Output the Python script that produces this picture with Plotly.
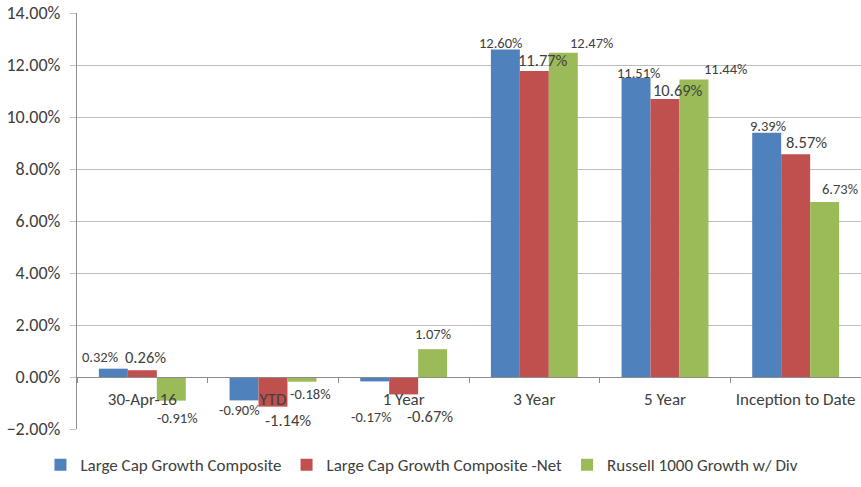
import plotly.graph_objects as go

categories = ["30-Apr-16", "YTD", "1 Year", "3 Year", "5 Year", "Inception to Date"]
composite = [0.32, -0.90, -0.17, 12.60, 11.51, 9.39]
composite_net = [0.26, -1.14, -0.67, 11.77, 10.69, 8.57]
russell = [-0.91, -0.18, 1.07, 12.47, 11.44, 6.73]

series = [
    ("Large Cap Growth Composite", composite, "#4F81BD"),
    ("Large Cap Growth Composite -Net", composite_net, "#C0504D"),
    ("Russell 1000 Growth w/ Div", russell, "#9BBB59"),
]

# label placement tweaks (pixels): per series, per category (dx, dy)
label_offsets = [
    [(-13, -12), (-5, 10), (-3, 36), (-5, -6), (2, -5), (1, -7)],
    [(3, -13), (15, 13), (26, 22), (9, -11), (13, -9), (11, -12)],
    [(6, 17), (8, 12), (0, -15), (28, -10), (31, -11), (15, -13)],
]
label_sizes = [14.5, 16.5, 14.5]
bar_shift = [-29, 0, 29]

FONT = "Carlito, Lato, sans-serif"
TXT = "#404040"

fig = go.Figure()
for name, vals, color in series:
    fig.add_trace(go.Bar(x=categories, y=vals, name=name, marker=dict(color=color, line=dict(width=0))))

for si, (name, vals, color) in enumerate(series):
    for ci, v in enumerate(vals):
        dx, dy = label_offsets[si][ci]
        fig.add_annotation(
            x=categories[ci], y=v, xref="x", yref="y",
            text=f"{v:.2f}%", showarrow=False,
            xshift=bar_shift[si] + dx, yshift=-dy,
            font=dict(family=FONT, size=label_sizes[si], color=TXT),
            xanchor="center", yanchor="middle",
        )

fig.update_layout(
    width=861, height=487,
    margin=dict(l=77, r=0, t=13, b=58, autoexpand=False),
    plot_bgcolor="white", paper_bgcolor="white",
    barmode="group", bargap=0.335, bargroupgap=0,
    font=dict(family=FONT, color=TXT),
    showlegend=True,
    legend=dict(
        orientation="h", xref="container", yref="container",
        x=0.047, xanchor="left", y=0.045, yanchor="middle",
        font=dict(family=FONT, size=17, color=TXT),
        itemwidth=30, tracegroupgap=0,
    ),
    xaxis=dict(
        anchor="free", position=0.125, automargin=False,
        showline=True, linecolor="#8C8C8C", linewidth=1,
        ticks="outside", tickson="boundaries", ticklen=5, tickcolor="#8C8C8C",
        tickfont=dict(family=FONT, size=17, color=TXT),
        tickangle=0,
        ticklabelstandoff=7,
        showgrid=False, zeroline=False,
    ),
    yaxis=dict(
        range=[-2, 14], dtick=2, tickformat=".2f", ticksuffix="%",
        automargin=False,
        showline=True, linecolor="#8C8C8C", linewidth=1,
        ticks="outside", ticklen=6, tickcolor="#BEBEBE",
        showgrid=True, gridcolor="#BEBEBE", gridwidth=1,
        zeroline=False,
        tickfont=dict(family=FONT, size=18, color=TXT),
        ticklabelstandoff=6,
    ),
)

fig.write_html("out.html")
